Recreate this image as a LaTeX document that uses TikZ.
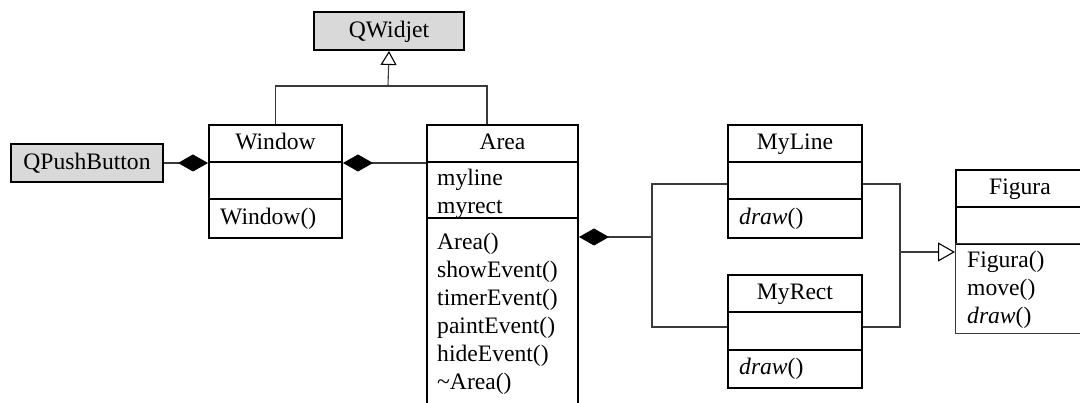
\documentclass[tikz,border=0pt]{standalone}
\usepackage{fontspec}
\setmainfont{Liberation Serif}
\usetikzlibrary{arrows.meta,calc}
\definecolor{boxgray}{HTML}{D9D9D9}
\definecolor{linegray}{HTML}{3A3A3A}
\begin{document}
\begin{tikzpicture}[x=1pt,y=-1pt,
  every node/.style={font=\fontsize{23.6}{28}\selectfont},
  cls/.style={draw, line width=2pt, inner sep=0pt, anchor=north west},
  graycls/.style={cls, fill=boxgray},
  sep/.style={line width=2pt},
  conn/.style={draw=linegray, line width=1.1pt},
  txt/.style={anchor=west, inner sep=0pt, text height=16pt, text depth=2pt},
  ttl/.style={inner sep=0pt, text height=16pt, text depth=2pt},
  comp/.style={{Diamond[length=30pt,width=17pt,black]}-},
  inh/.style={-{Triangle[open,length=14pt,width=16pt,black]}},
  inhbig/.style={-{Triangle[open,length=17pt,width=19pt,black]}}]
\useasboundingbox (0,0) rectangle (1080,403);
\clip (0,0) rectangle (1080,403);

% QWidjet
\node[graycls, minimum width=150pt, minimum height=38pt] (qwidjet) at (313,11) {};
\node[ttl] (qwidjetT) at (qwidjet.center) {QWidjet};

% QPushButton
\node[graycls, minimum width=152pt, minimum height=38pt] (qpush) at (10,143) {};
\node[ttl] (qpushT) at (qpush.center) {QPushButton};

% Window
\node[cls, minimum width=133pt, minimum height=113pt] (window) at (208,124) {};
\draw[sep] ($(window.north west)+(0,38)$) -- ($(window.north east)+(0,38)$);
\draw[sep] ($(window.north west)+(0,75)$) -- ($(window.north east)+(0,75)$);
\node[ttl] (windowT) at ($(window.north)+(0,19)$) {Window};
\node[txt] (windowM) at (220,218) {Window()};

% Area
\node[cls, minimum width=151pt, minimum height=300pt] (area) at (426,124) {};
\draw[sep] ($(area.north west)+(0,38)$) -- ($(area.north east)+(0,38)$);
\draw[sep] ($(area.north west)+(0,94)$) -- ($(area.north east)+(0,94)$);
\node[ttl] (areaT) at ($(area.north)+(0,19)$) {Area};
\node[txt] (a1) at (437,179) {myline};
\node[txt] (a2) at (437,207) {myrect};
\node[txt] (m1) at (437,243) {Area()};
\node[txt] (m2) at (437,271) {showEvent()};
\node[txt] (m3) at (437,299) {timerEvent()};
\node[txt] (m4) at (437,327) {paintEvent()};
\node[txt] (m5) at (437,355) {hideEvent()};
\node[txt] (m6) at (437,383) {\textasciitilde Area()};

% MyLine
\node[cls, minimum width=134pt, minimum height=113pt] (myline) at (727,124) {};
\draw[sep] ($(myline.north west)+(0,38)$) -- ($(myline.north east)+(0,38)$);
\draw[sep] ($(myline.north west)+(0,75)$) -- ($(myline.north east)+(0,75)$);
\node[ttl] (mylineT) at ($(myline.north)+(0,19)$) {MyLine};
\node[txt] (mylineM) at (739,218) {\textit{draw}()};

% MyRect
\node[cls, minimum width=134pt, minimum height=113pt] (myrect) at (727,274) {};
\draw[sep] ($(myrect.north west)+(0,38)$) -- ($(myrect.north east)+(0,38)$);
\draw[sep] ($(myrect.north west)+(0,76)$) -- ($(myrect.north east)+(0,76)$);
\node[ttl] (myrectT) at ($(myrect.north)+(0,19)$) {MyRect};
\node[txt] (myrectM) at (739,368) {\textit{draw}()};

% Figura
\node[cls, minimum width=135pt, minimum height=74pt] (figura) at (955,169) {};
\draw[sep] ($(figura.north west)+(0,38)$) -- ($(figura.north east)+(0,38)$);
\node[draw=linegray, line width=1pt, inner sep=0pt, anchor=north west, minimum width=135pt, minimum height=90pt] (figuraOps) at (955,243) {};
\node[ttl] (figuraT) at (1020,188) {Figura};
\node[txt] (f1) at (967,261) {Figura()};
\node[txt] (f2) at (967,289) {move()};
\node[txt] (f3) at (967,317) {\textit{draw}()};

% inheritance to QWidjet
\coordinate (jq) at (388,86);
\coordinate (areaTop) at ($(area.north west)+(61,0)$);
\draw[conn, inh] (jq) -- (qwidjet.south);
\draw[conn] (window.north) -- (window.north |- jq) -- (areaTop |- jq) -- (areaTop);

% compositions
\draw[conn, comp] (qpush.east -| window.west) -- (qpush.east);
\draw[conn, comp] (window.east |- qpush.east) -- (area.west |- qpush.east);
\coordinate (aDia) at ($(area.north east)+(0,113)$);
\coordinate (jl) at (652,237);
\draw[conn, comp] (aDia) -- (jl);
\coordinate (lineL) at ($(myline.north west)+(0,60)$);
\coordinate (rectL) at ($(myrect.north west)+(0,53)$);
\draw[conn] (lineL) -- (jl |- lineL) -- (jl |- rectL) -- (rectL);

% inheritance to Figura
\coordinate (lineR) at ($(myline.north east)+(0,60)$);
\coordinate (rectR) at ($(myrect.north east)+(0,53)$);
\coordinate (jr) at (900,252);
\draw[conn] (lineR) -- (jr |- lineR) -- (jr |- rectR) -- (rectR);
\draw[conn, inhbig] (jr) -- (jr -| figura.west);
\end{tikzpicture}
\end{document}
